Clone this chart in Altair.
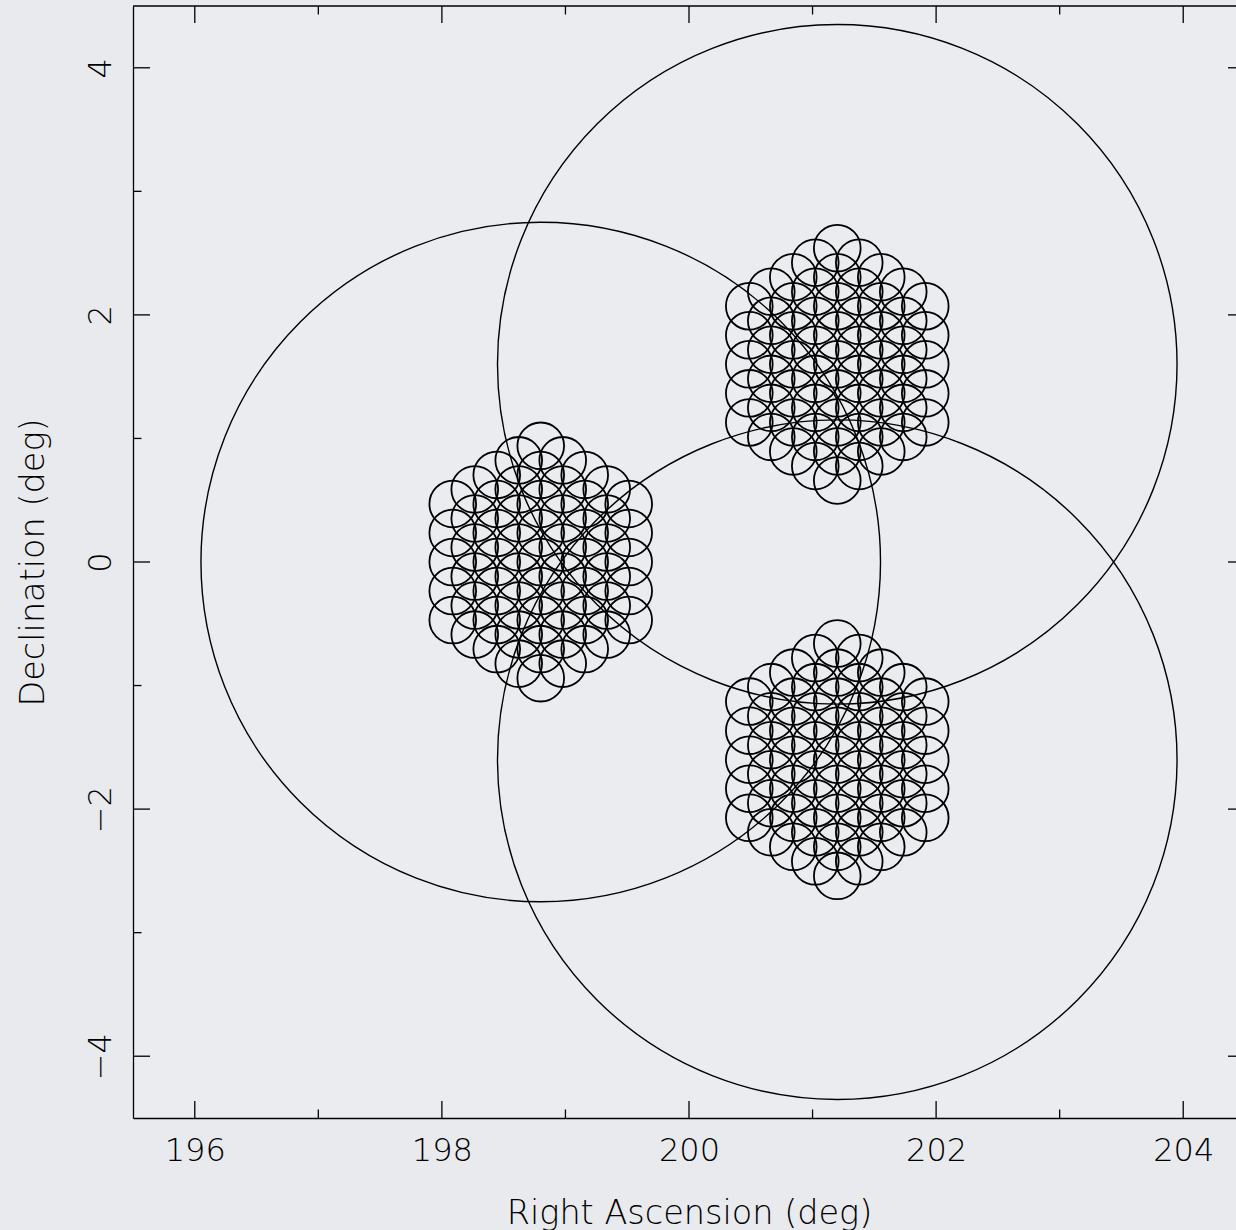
import altair as alt
import pandas as pd

# Pointing centres (deg) and the primary-beam radius drawn around each
field_ra = [198.8, 201.2, 201.2]
field_dec = [0.0, 1.6, -1.6]
field_radius_deg = 2.75

# Formed-beam footprint: RA offset of each beam column, beams per column,
# spacing of beams along a column, and the beam radius (all deg)
beam_col_dra = [-0.712, -0.534, -0.356, -0.178, 0.0, 0.178, 0.356, 0.534, 0.712]
beam_col_count = [5, 6, 7, 8, 9, 8, 7, 6, 5]
beam_dec_step = 0.235
beam_radius_deg = 0.189

# Axis ticks
ra_major = [196, 198, 200, 202, 204]
ra_minor = [197, 199, 201, 203]
dec_major = [-4, -2, 0, 2, 4]
dec_minor = [-3, -1, 1, 3]

# Plot frame
ra_lo, ra_frame_hi = 195.5, 204.5
dec_lo, dec_hi = -4.5, 4.5

PLOT_W, PLOT_H = 1103, 1112
PAD_L, PAD_T, PAD_B = 133, 6, 112
px_per_deg = PLOT_H / (dec_hi - dec_lo)
ra_hi = ra_lo + PLOT_W / px_per_deg

FONT = "DejaVu Sans"
INK = "black"
MAJOR_LEN, MINOR_LEN = 17, 8.5

# Beam centres for every pointing
rows = []
for ra0, dec0 in zip(field_ra, field_dec):
    for dra, n in zip(beam_col_dra, beam_col_count):
        for k in range(n):
            rows.append({"ra": ra0 + dra, "dec": dec0 + (k - (n - 1) / 2) * beam_dec_step})
beams = pd.DataFrame(rows)
fields = pd.DataFrame({"ra": field_ra, "dec": field_dec})

x_scale = alt.Scale(domain=[ra_lo, ra_hi], nice=False, zero=False)
y_scale = alt.Scale(domain=[dec_lo, dec_hi], nice=False, zero=False)

x_axis = alt.Axis(values=ra_major, format="d", title="Right Ascension (deg)")
y_axis = alt.Axis(values=dec_major, format="d", title="Declination (deg)")

primary = alt.Chart(fields).mark_point(
    shape="circle", filled=False, color=INK, opacity=1, strokeWidth=1.4,
    size=(2 * field_radius_deg * px_per_deg) ** 2,
).encode(
    x=alt.X("ra:Q", scale=x_scale, axis=x_axis),
    y=alt.Y("dec:Q", scale=y_scale, axis=y_axis),
)

formed = alt.Chart(beams).mark_point(
    shape="circle", filled=False, color=INK, opacity=1, strokeWidth=1.8,
    size=(2 * beam_radius_deg * px_per_deg) ** 2,
).encode(
    x=alt.X("ra:Q", scale=x_scale),
    y=alt.Y("dec:Q", scale=y_scale),
)


def edge_ticks(values, along, at, length, sign):
    """Inward-pointing frame ticks at `values` on the edge located at `at`."""
    df = pd.DataFrame({"ra": values} if along == "x" else {"dec": values})
    if along == "x":
        mark = alt.Chart(df).mark_tick(orient="vertical", size=length, thickness=1.3,
                                       color=INK, opacity=1, yOffset=sign * length / 2)
        return mark.encode(x=alt.X("ra:Q", scale=x_scale),
                           y=alt.YDatum(at, scale=y_scale))
    mark = alt.Chart(df).mark_tick(orient="horizontal", size=length, thickness=1.3,
                                   color=INK, opacity=1, xOffset=sign * length / 2)
    return mark.encode(y=alt.Y("dec:Q", scale=y_scale),
                       x=alt.XDatum(at, scale=x_scale))


ticks = [
    edge_ticks(ra_major, "x", dec_lo, MAJOR_LEN, -1),
    edge_ticks(ra_minor, "x", dec_lo, MINOR_LEN, -1),
    edge_ticks(ra_major, "x", dec_hi, MAJOR_LEN, 1),
    edge_ticks(ra_minor, "x", dec_hi, MINOR_LEN, 1),
    edge_ticks(dec_major, "y", ra_lo, MAJOR_LEN, 1),
    edge_ticks(dec_minor, "y", ra_lo, MINOR_LEN, 1),
    edge_ticks(dec_major, "y", ra_frame_hi, MAJOR_LEN, -1),
    edge_ticks(dec_minor, "y", ra_frame_hi, MINOR_LEN, -1),
]

top_edge = alt.Chart(pd.DataFrame({"dec": [dec_hi]})).mark_rule(
    color=INK, strokeWidth=1.3
).encode(y=alt.Y("dec:Q", scale=y_scale))

chart = alt.layer(primary, formed, *ticks, top_edge).properties(
    width=PLOT_W,
    height=PLOT_H,
    autosize=alt.AutoSizeParams(type="none"),
    padding={"left": PAD_L, "top": PAD_T, "right": 0, "bottom": PAD_B},
    background="#e8eaed",
).configure_view(
    stroke=None, fill="#eaecef"
).configure_axis(
    ticks=False, tickSize=0, grid=False, domain=True,
    domainColor=INK, domainWidth=1.3,
    labelFont=FONT, labelFontSize=32, labelFontWeight=200, labelColor=INK,
    labelFlush=False, labelOverlap=False, labelBaseline="alphabetic",
    titleFont=FONT, titleFontSize=33.5, titleFontWeight=200, titleColor=INK,
    titleBaseline="alphabetic", titleAlign="center",
).configure_axisX(
    labelPadding=42, titleX=556, titleY=105,
).configure_axisY(
    labelPadding=23, labelAngle=270, labelAlign="center",
    titleAngle=270, titleX=-89.7, titleY=PLOT_H / 2,
)

chart.save("out.html", embed_options={"renderer": "svg", "actions": False})
